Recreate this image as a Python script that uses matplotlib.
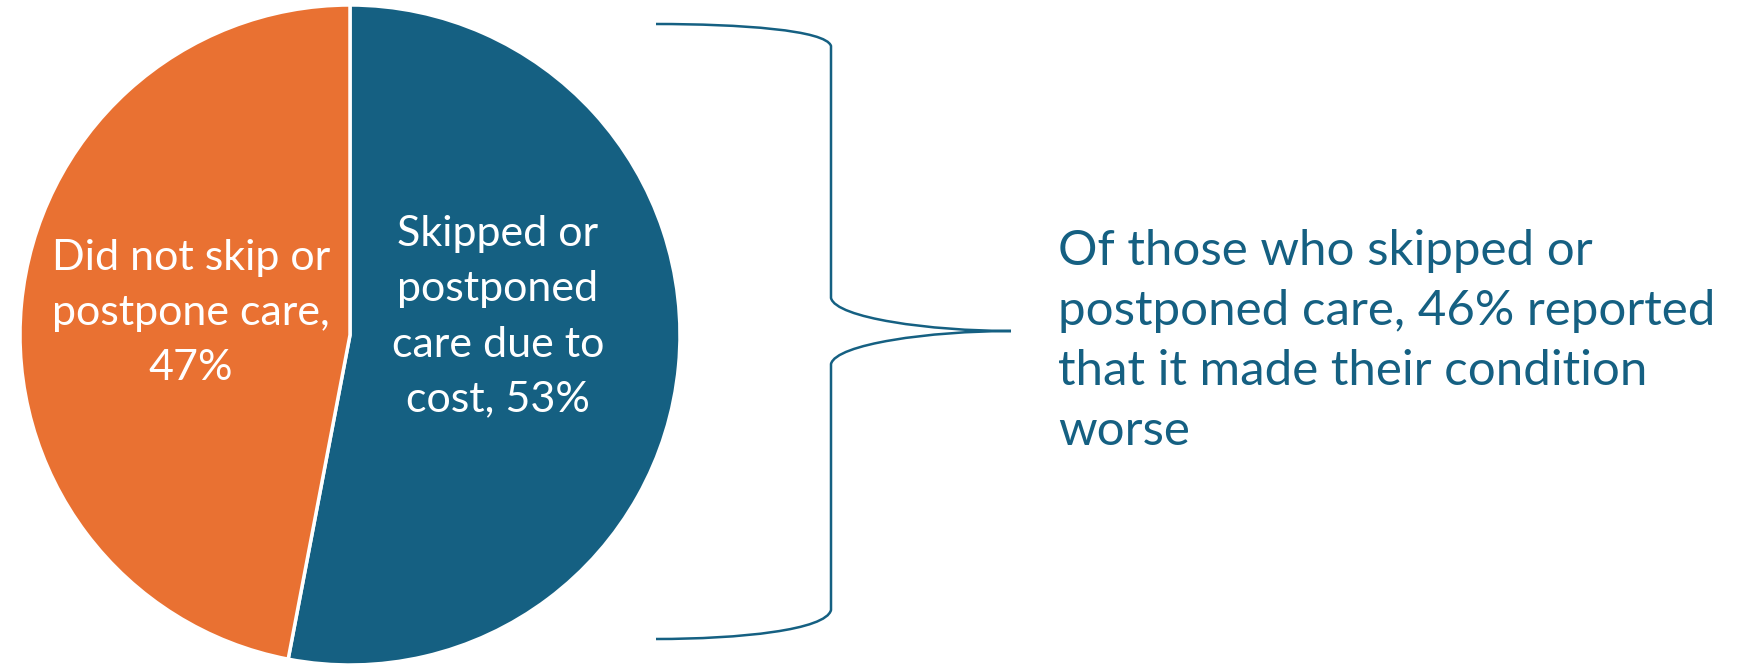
import matplotlib
matplotlib.use("Agg")
import matplotlib.pyplot as plt
from matplotlib.path import Path
from matplotlib.patches import PathPatch

# ---- data ----
categories = ["Skipped or\npostponed\ncare due to\ncost, 53%",
              "Did not skip or\npostpone care,\n47%"]
values = [53, 47]
colors = ["#156082", "#E97132"]
note_text = ("Of those who skipped or\npostponed care, 46% reported\n"
             "that it made their condition\nworse")

W, H = 1743, 667
fig = plt.figure(figsize=(W / 100, H / 100), dpi=100)
ax = fig.add_axes([0, 0, 1, 1])

FONT = ["Lato", "DejaVu Sans"]

cx, cy, r = 350, H - 335, 330
wedges, _ = ax.pie(values, startangle=90, counterclock=False, colors=colors,
                   center=(cx, cy), radius=r,
                   wedgeprops=dict(edgecolor="white", linewidth=2.5))

# labels inside slices
ax.text(498, H - 317, categories[0], ha="center", va="center", color="white",
        fontsize=31, family=FONT, linespacing=1.55)
ax.text(191, H - 313, categories[1], ha="center", va="center", color="white",
        fontsize=31, family=FONT, linespacing=1.55)

# brace (defined in pixel coords, y downward, then flipped)
def fy(y):
    return H - y

verts = [
    (656, fy(24)), (740, fy(24)), (826, fy(30)), (831, fy(46)),
    (831, fy(298)),
    (836, fy(318)), (930, fy(331)), (1011, fy(331)),
    (930, fy(331)), (836, fy(344)), (831, fy(364)),
    (831, fy(610)),
    (826, fy(630)), (740, fy(639)), (656, fy(639)),
]
codes = [Path.MOVETO, Path.CURVE4, Path.CURVE4, Path.CURVE4,
         Path.LINETO,
         Path.CURVE4, Path.CURVE4, Path.CURVE4,
         Path.CURVE4, Path.CURVE4, Path.CURVE4,
         Path.LINETO,
         Path.CURVE4, Path.CURVE4, Path.CURVE4]
ax.add_patch(PathPatch(Path(verts, codes), facecolor="none",
                       edgecolor="#156082", linewidth=1.8))

ax.text(1058, H - 341, note_text, ha="left", va="center", color="#156082",
        fontsize=35.5, family=FONT, linespacing=1.44)

ax.set_xlim(0, W)
ax.set_ylim(0, H)
ax.set_aspect("equal")
ax.axis("off")

fig.savefig("out.png", dpi=100, facecolor="white")
